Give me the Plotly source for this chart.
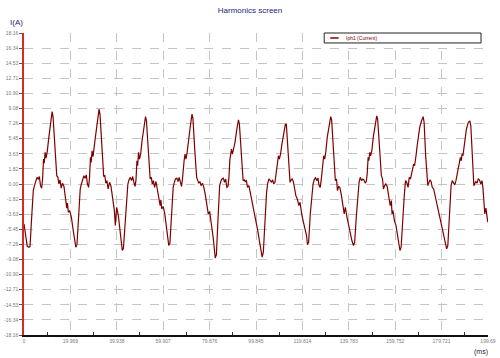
import plotly.graph_objects as go

# ---------------- data ----------------
lead_t = [0.0, 0.7, 1.4]
lead_i = [-4.8, -6.4, -7.5]

cycle_t = [
    [2.1, 2.6, 3.3, 4.0, 4.5, 5.0, 5.6, 6.1, 6.6, 7.1, 7.6, 8.0, 8.4, 8.7, 9.1, 9.5, 10.0, 10.6, 11.4, 12.1,
     12.5, 13.2, 14.1, 14.6, 15.0, 15.5, 16.0, 16.6, 17.2, 17.9, 18.4, 18.7, 19.1, 19.7, 20.4, 21.2],
    [22.3, 22.8, 23.5, 24.2, 24.7, 25.2, 25.8, 26.3, 26.8, 27.3, 27.8, 28.2, 28.6, 28.9, 29.3, 29.7, 30.2, 30.8, 31.6, 32.3,
     32.7, 33.4, 34.3, 34.8, 35.2, 35.7, 36.2, 36.8, 37.4, 38.1, 38.6, 38.9, 39.3, 39.9, 40.6, 41.4],
    [42.3, 42.8, 43.5, 44.2, 44.7, 45.2, 45.8, 46.3, 46.8, 47.3, 47.8, 48.2, 48.6, 48.9, 49.3, 49.7, 50.2, 50.8, 51.6, 52.3,
     52.7, 53.4, 54.3, 54.8, 55.2, 55.7, 56.2, 56.8, 57.4, 58.1, 58.6, 58.9, 59.3, 59.9, 60.6, 61.4],
    [62.3, 62.8, 63.5, 64.2, 64.7, 65.2, 65.8, 66.3, 66.8, 67.3, 67.8, 68.2, 68.6, 68.9, 69.3, 69.7, 70.2, 70.8, 71.6, 72.3,
     72.7, 73.4, 74.3, 74.8, 75.2, 75.7, 76.2, 76.8, 77.4, 78.1, 78.6, 78.9, 79.3, 79.9, 80.6, 81.4],
    [82.3, 82.8, 83.5, 84.2, 84.7, 85.2, 85.8, 86.3, 86.8, 87.3, 87.8, 88.2, 88.6, 88.9, 89.3, 89.7, 90.2, 90.8, 91.6, 92.3,
     92.7, 93.4, 94.3, 94.8, 95.2, 95.7, 96.2, 96.8, 97.4, 98.1, 98.6, 98.9, 99.3, 99.9, 100.6, 101.4],
    [102.5, 103.0, 103.7, 104.4, 104.9, 105.4, 106.0, 106.5, 107.0, 107.5, 108.0, 108.4, 108.8, 109.1, 109.5, 109.9, 110.4, 111.0, 111.8, 112.5,
     112.9, 113.6, 114.5, 115.0, 115.4, 115.9, 116.4, 117.0, 117.6, 118.3, 118.8, 119.1, 119.5, 120.1, 120.8, 121.6],
    [122.0, 122.5, 123.2, 123.9, 124.4, 124.9, 125.5, 126.0, 126.5, 127.0, 127.5, 127.9, 128.3, 128.6, 129.0, 129.4, 129.9, 130.5, 131.3, 132.0,
     132.4, 133.1, 134.0, 134.5, 134.9, 135.4, 135.9, 136.5, 137.1, 137.8, 138.3, 138.6, 139.0, 139.6, 140.3, 141.1],
    [141.8, 142.3, 143.0, 143.7, 144.2, 144.7, 145.3, 145.8, 146.3, 146.8, 147.3, 147.7, 148.1, 148.4, 148.8, 149.2, 149.7, 150.3, 151.1, 151.8,
     152.2, 152.9, 153.8, 154.3, 154.7, 155.2, 155.7, 156.3, 156.9, 157.6, 158.1, 158.4, 158.8, 159.4, 160.1, 160.9],
    [161.8, 162.3, 163.0, 163.7, 164.2, 164.7, 165.3, 165.8, 166.3, 166.8, 167.3, 167.7, 168.1, 168.4, 168.8, 169.2, 169.7, 170.3, 171.1, 171.8,
     172.2, 172.9, 173.8, 174.3, 174.7, 175.2, 175.7, 176.3, 176.9, 177.6, 178.1, 178.4, 178.8, 179.4, 180.1, 180.9],
    [181.9, 182.4, 183.1, 183.8, 184.3, 184.8, 185.4, 185.9, 186.4, 186.9, 187.4, 187.8, 188.2, 188.5, 188.9, 189.3, 189.8, 190.4, 191.2, 191.9,
     192.3, 193.0, 193.6, 194.4, 195.0, 195.5, 196.0, 196.6, 197.1, 197.5, 197.9, 198.3, 198.8, 199.6],
]

cycle_i = [
    [-7.6, -7.5, -4.0, -0.8, -0.2, 0.4, 0.8, 0.6, 0.9, -0.2, -0.5, 0.6, 3.0, 2.5, 3.8, 3.1, 3.9, 5.4, 7.1, 8.7,
     8.1, 4.6, 1.0, 0.8, 0.0, 0.5, -0.5, 0.1, -0.3, -1.8, -2.9, -2.3, -3.4, -3.2, -4.0, -5.6],
    [-7.6, -7.3, -4.2, -0.6, 0.0, 0.6, 1.0, 0.7, 1.1, 0.0, -0.4, 0.8, 3.2, 2.6, 4.0, 3.3, 4.2, 5.8, 7.5, 9.0,
     8.4, 4.8, 0.9, 1.0, 0.1, 0.4, -0.6, 0.2, -0.2, -1.6, -2.6, -3.2, -5.0, -2.8, -3.8, -5.8],
    [-8.0, -7.7, -4.4, -1.0, 0.0, 0.5, 0.8, 0.4, 0.9, 0.2, -0.3, 0.5, 2.8, 2.2, 3.8, 3.0, 3.6, 5.2, 6.8, 8.1,
     7.6, 4.4, 0.6, 0.8, 0.0, 0.4, -0.4, 0.3, -0.6, -1.6, -2.6, -1.9, -3.0, -2.7, -3.6, -5.4],
    [-7.4, -7.1, -3.8, -0.4, 0.2, 0.6, 0.7, 0.3, 0.8, 0.0, -0.3, 0.6, 2.2, 2.8, 3.6, 3.0, 3.8, 5.5, 7.0, 8.4,
     7.9, 4.5, 0.8, 0.4, 0.1, 0.3, -0.2, 0.1, -0.4, -1.4, -2.4, -2.8, -3.6, -3.3, -4.6, -6.4],
    [-8.9, -8.5, -4.2, -0.2, 0.3, 0.6, 0.7, 0.2, 0.6, -0.4, -0.3, 0.8, 2.9, 3.4, 4.2, 3.6, 4.2, 5.0, 6.6, 7.7,
     7.2, 4.0, 0.4, 0.5, 0.3, 0.4, -0.4, -0.2, -1.0, -2.2, -2.6, -3.2, -3.8, -4.6, -5.6, -7.0],
    [-8.8, -8.2, -3.8, -1.0, 0.1, 0.6, 0.4, 0.2, 0.5, 0.0, 0.2, 1.2, 2.0, 2.6, 3.4, 3.0, 3.6, 4.8, 6.4, 7.2,
     7.2, 4.2, 0.2, 0.5, 0.6, 0.3, -0.6, -1.4, -1.8, -2.6, -2.2, -3.0, -3.6, -4.4, -5.2, -6.2],
    [-7.3, -7.0, -3.6, -0.8, 0.0, 0.5, 0.8, 0.4, 0.7, -0.2, -0.4, 0.5, 1.8, 2.8, 3.4, 3.0, 3.9, 5.6, 7.0, 8.1,
     7.7, 4.4, 0.4, 0.6, -0.8, -0.3, -0.4, -1.2, -2.6, -3.6, -2.8, -3.6, -4.0, -4.8, -5.8, -6.8],
    [-7.4, -7.0, -4.0, -1.4, 0.2, 0.8, 0.4, 0.6, 0.5, 0.1, 0.3, 1.2, 3.2, 2.8, 3.8, 3.4, 4.0, 5.6, 7.2, 8.2,
     7.8, 4.6, 1.0, 0.6, -0.6, -0.2, 0.0, -0.3, -1.4, -2.6, -2.0, -3.6, -3.2, -4.4, -5.0, -6.6],
    [-8.0, -7.6, -4.0, -1.2, 0.4, 0.2, -0.4, 0.8, 0.6, 1.2, 2.0, 2.4, 2.2, 3.2, 3.6, 4.6, 5.6, 6.8, 7.6, 8.1,
     7.4, 3.2, -0.2, 0.2, 0.5, 0.3, -0.4, -0.6, -1.4, -2.0, -2.8, -3.4, -4.0, -4.6, -5.6, -6.8],
    [-7.8, -7.4, -3.8, -0.2, 0.4, 0.2, -0.1, 0.4, 1.2, 1.6, 2.4, 3.2, 2.8, 3.6, 3.4, 4.4, 5.2, 6.6, 7.4, 7.6,
     7.0, 3.4, -0.2, 0.3, 0.1, 0.6, 0.5, 0.0, 0.4, -0.4, -2.8, -3.6, -2.9, -4.6],
]

x_tick_vals = [0, 19.969, 39.938, 59.907, 79.876, 99.845, 119.814, 139.783, 159.752, 179.721, 199.69]
x_tick_text = ["0", "19.969", "39.938", "59.907", "79.876", "99.845", "119.814", "139.783", "159.752", "179.721", "199.69"]
x_minor_vals = [9.98, 29.95, 49.92, 69.89, 89.86, 109.83, 129.8, 149.77, 169.74, 189.71]

y_tick_vals = [18.16, 16.34, 14.53, 12.71, 10.90, 9.08, 7.26, 5.45, 3.63, 1.82, 0.0,
               -1.82, -3.63, -5.45, -7.26, -9.08, -10.90, -12.71, -14.53, -16.34, -18.16]
y_tick_text = ["18.16", "16.34", "14.53", "12.71", "10.90", "9.08", "7.26", "5.45", "3.63", "1.82", "0.00",
               "-1.82", "-3.63", "-5.45", "-7.26", "-9.08", "-10.90", "-12.71", "-14.53", "-16.34", "-18.16"]

series_name = "Iph1 (Current)"

# ---------------- build ----------------
time_ms = list(lead_t)
current_a = list(lead_i)
for ts, vs in zip(cycle_t, cycle_i):
    time_ms.extend(ts)
    current_a.extend(vs)

LINE_COLOR = "#800000"
FONT = "Liberation Sans, Arial, sans-serif"

fig = go.Figure()
fig.add_trace(go.Scatter(
    x=time_ms, y=current_a, mode="lines", name=series_name, showlegend=False,
    line=dict(color=LINE_COLOR, width=1.2),
))

grid = "#c4c4c4"
tickfont = dict(family=FONT, size=5, color="#7a7a7a")

fig.update_layout(
    width=500, height=358,
    margin=dict(l=23, r=4, t=33, b=23),
    paper_bgcolor="white", plot_bgcolor="white",
    title=dict(text="Harmonics screen", x=0.5, xanchor="center", y=0.972, yanchor="middle",
               font=dict(family=FONT, size=8, color="#1a2580")),
    showlegend=False,
    xaxis=dict(range=[0, 199.69], tickmode="array", tickvals=x_tick_vals, ticktext=x_tick_text,
               showgrid=True, gridcolor=grid, griddash="dash", gridwidth=1,
               zeroline=False, showline=True, linecolor="#111111", linewidth=1.5,
               ticks="", tickfont=tickfont, ticklabeloverflow="allow",
               minor=dict(tickvals=x_minor_vals, ticks="inside", ticklen=3, tickcolor="#333333", showgrid=False)),
    yaxis=dict(range=[-18.16, 18.16], tickmode="array", tickvals=y_tick_vals, ticktext=y_tick_text,
               showgrid=True, gridcolor=grid, griddash="dash", gridwidth=1,
               zeroline=False, showline=True, linecolor="#d42a2a", linewidth=1.5,
               ticks="outside", ticklen=3, tickcolor="#555555", tickfont=tickfont),
)

# legend box drawn like the reference's compact legend
fig.add_shape(type="rect", xref="paper", yref="paper", x0=0.647, x1=0.985, y0=0.967, y1=1.0,
              line=dict(color="#222222", width=1), fillcolor="white", layer="above")
fig.add_shape(type="line", xref="paper", yref="paper", x0=0.660, x1=0.678, y0=0.9835, y1=0.9835,
              line=dict(color=LINE_COLOR, width=1.5), layer="above")
fig.add_annotation(text=series_name, xref="paper", yref="paper", x=0.689, y=0.9835,
                   xanchor="left", yanchor="middle", showarrow=False,
                   font=dict(family=FONT, size=5, color=LINE_COLOR))

fig.add_annotation(text="I(A)", xref="paper", yref="paper", x=-0.034, y=1.036,
                   xanchor="left", yanchor="middle", showarrow=False,
                   font=dict(family=FONT, size=8, color="#1a2580"))
fig.add_annotation(text="(ms)", xref="paper", yref="paper", x=0.966, y=-0.056,
                   xanchor="left", yanchor="middle", showarrow=False,
                   font=dict(family=FONT, size=7, color="#1a1a40"))

fig.write_html("out.html", config={"displayModeBar": False},
               post_script="document.body.style.margin='0px';")
